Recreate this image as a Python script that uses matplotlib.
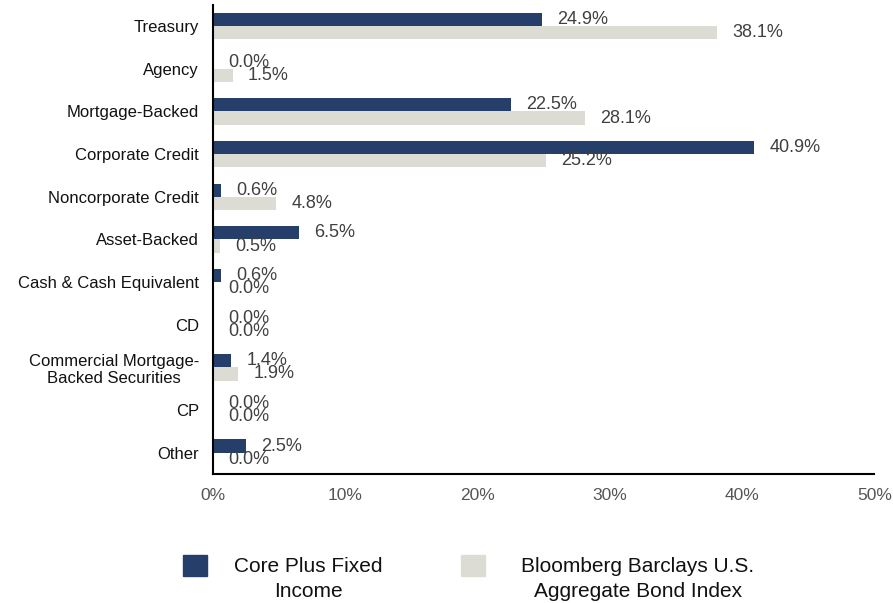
import numpy as np
import matplotlib.pyplot as plt
from matplotlib.patches import Rectangle

plt.rcParams['font.family'] = ['Liberation Sans', 'DejaVu Sans']

categories = ["Treasury", "Agency", "Mortgage-Backed", "Corporate Credit",
              "Noncorporate Credit", "Asset-Backed", "Cash & Cash Equivalent",
              "CD", "Commercial Mortgage-\nBacked Securities", "CP", "Other"]
core_plus = [24.9, 0.0, 22.5, 40.9, 0.6, 6.5, 0.6, 0.0, 1.4, 0.0, 2.5]
bbg_agg = [38.1, 1.5, 28.1, 25.2, 4.8, 0.5, 0.0, 0.0, 1.9, 0.0, 0.0]
series_names = ["Core Plus Fixed\nIncome", "Bloomberg Barclays U.S.\nAggregate Bond Index"]
xticks = [0, 10, 20, 30, 40, 50]

dark = "#253f6a"
light = "#dcdcd4"

fig = plt.figure(figsize=(8.93, 6.03), dpi=100)
ax = fig.add_axes([0.2385, 0.214, 0.7405, 0.778])

y = np.arange(len(categories))
h = 0.31
b1 = ax.barh(y - h / 2, core_plus, height=h, color=dark)
b2 = ax.barh(y + h / 2, bbg_agg, height=h, color=light)

for bars, vals in ((b1, core_plus), (b2, bbg_agg)):
    for bar, v in zip(bars, vals):
        ax.annotate("%.1f%%" % v, (v, bar.get_y() + bar.get_height() / 2),
                    xytext=(11, 0), textcoords="offset points",
                    va="center", ha="left", fontsize=13, color="#404040")

ax.set_xlim(0, 50)
ax.set_ylim(len(categories) - 0.5, -0.5)
ax.set_xticks(xticks)
ax.set_xticklabels(["%d%%" % t for t in xticks], fontsize=12.5, color="#555555")
ax.set_yticks(y)
ax.set_yticklabels(categories, fontsize=12, color="#111111", multialignment="center")
ax.tick_params(axis="both", length=0)
ax.tick_params(axis="y", pad=10)
ax.tick_params(axis="x", pad=10)

for s in ("top", "right"):
    ax.spines[s].set_visible(False)
for s in ("left", "bottom"):
    ax.spines[s].set_linewidth(1.5)
    ax.spines[s].set_color("black")

# legend drawn by hand: square swatch plus centered two-line label
for x0, col, name, tx in ((0.205, dark, series_names[0], 0.345),
                          (0.516, light, series_names[1], 0.7145)):
    fig.add_artist(Rectangle((x0, 0.0448), 0.027, 0.035, transform=fig.transFigure,
                             color=col))
    fig.text(tx, 0.004, name, ha="center", va="bottom", fontsize=15,
             color="#111111", multialignment="center", linespacing=1.4)

fig.savefig("out.png", dpi=100)
